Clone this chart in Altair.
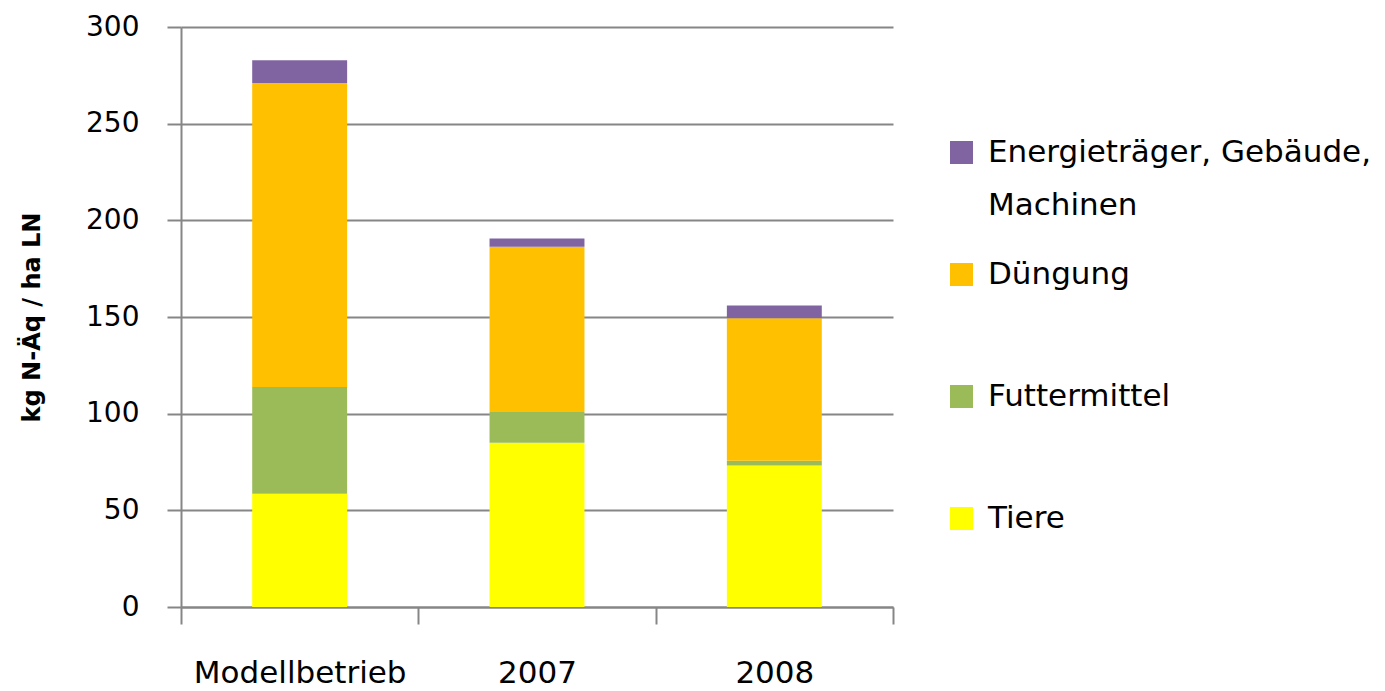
import altair as alt
import pandas as pd

categories = ["Modellbetrieb", "2007", "2008"]
series = ["Tiere", "Futtermittel", "Düngung", "Energieträger, Gebäude, Machinen"]
tiere = [58.6, 84.9, 73.2]
futtermittel = [55.2, 16.0, 2.4]
duengung = [157.2, 85.5, 73.7]
energie = [11.8, 4.2, 6.7]
colors = ["#FFFF00", "#9BBB59", "#FFC000", "#8064A2"]
y_ticks = [0, 50, 100, 150, 200, 250, 300]

rows = []
for s_idx, (s, vals) in enumerate(zip(series, [tiere, futtermittel, duengung, energie])):
    for c, v in zip(categories, vals):
        rows.append({"Kategorie": c, "Serie": s, "Wert": v, "ord": s_idx})
df = pd.DataFrame(rows)

legend_order = list(reversed(series))
legend_colors = list(reversed(colors))

FONT = "DejaVu Sans"
GRID = "#868686"

chart = alt.Chart(df).mark_bar(width=alt.RelativeBandSize(0.4)).encode(
    x=alt.X("Kategorie:N", sort=categories,
            scale=alt.Scale(paddingInner=0, paddingOuter=0),
            axis=alt.Axis(title=None, labelAngle=0, tickBand="extent",
                          labelFontSize=31, labelFont=FONT, labelColor="#000000",
                          labelLimit=400,
                          labelPadding=34, tickSize=17, tickColor=GRID, tickWidth=2,
                          domainColor=GRID, domainWidth=2)),
    y=alt.Y("Wert:Q", stack="zero",
            scale=alt.Scale(domain=[0, 300], nice=False),
            axis=alt.Axis(title="kg N-Äq / ha LN", values=y_ticks,
                          titleFont=FONT, titleFontSize=24, titleFontWeight="bold",
                          titleColor="#000000", titlePadding=41,
                          labelFontSize=28, labelFont=FONT, labelColor="#000000",
                          labelPadding=28, tickSize=14, tickColor=GRID, tickWidth=2,
                          domainColor=GRID, domainWidth=2,
                          grid=True, gridColor=GRID, gridWidth=2)),
    color=alt.Color("Serie:N",
                    scale=alt.Scale(domain=legend_order, range=legend_colors),
                    legend=alt.Legend(title=None, orient="none", legendX=765, legendY=110,
                                      symbolType="square", symbolSize=530,
                                      symbolStrokeWidth=0, gridAlign="all",
                                      labelFont=FONT, labelFontSize=31, labelColor="#000000",
                                      labelLimit=500, labelOffset=11, rowPadding=37,
                                      labelExpr="datum.label == 'Energieträger, Gebäude, Machinen' ? ['Energieträger, Gebäude,', 'Machinen'] : datum.label")),
    order=alt.Order("ord:Q", sort="ascending"),
).properties(
    width=712, height=580,
    padding={"left": 12, "top": 5, "right": 0, "bottom": 5},
).configure(
    style={"guide-label": {"lineHeight": 53}}
).configure_view(stroke=None)

chart.save("out.html", embed_options={"renderer": "svg", "actions": False})
